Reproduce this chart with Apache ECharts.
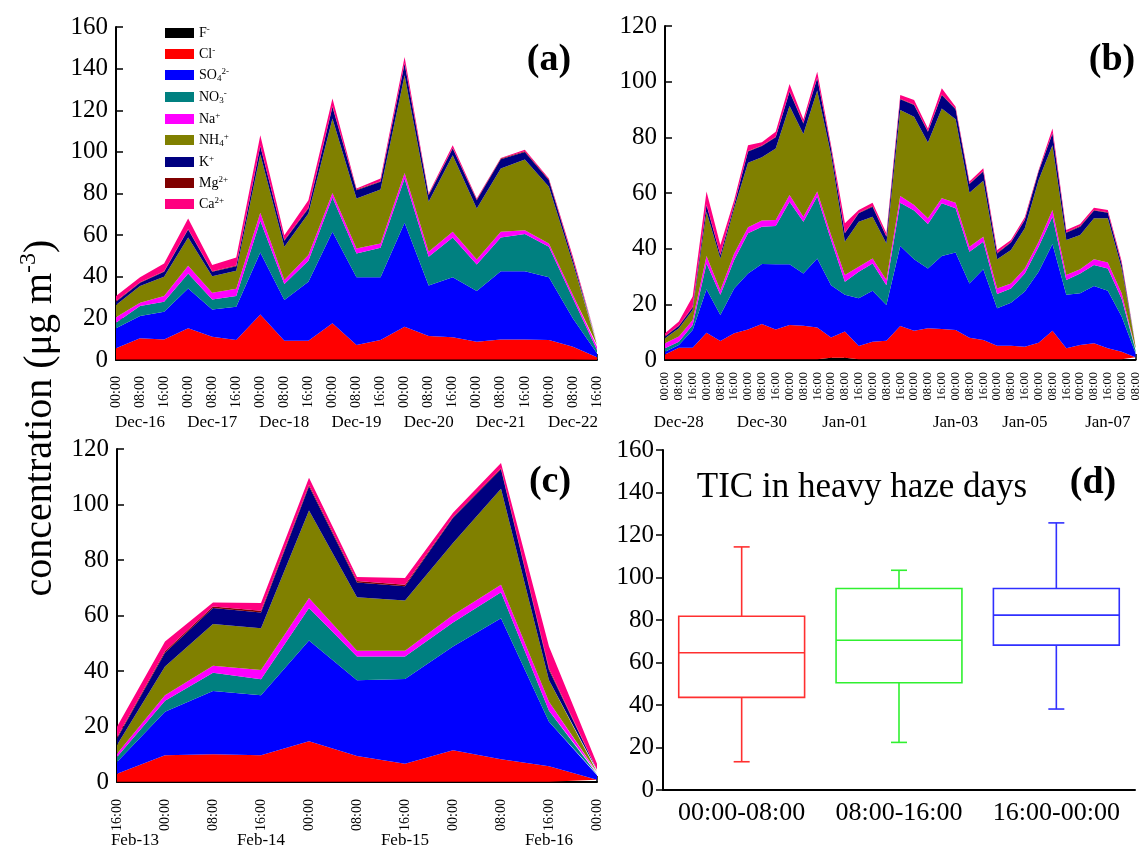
<!DOCTYPE html>
<html>
<head>
<meta charset="utf-8">
<title>Ion concentrations in haze days</title>
<script src="https://cdn.jsdelivr.net/npm/echarts@6/dist/echarts.min.js"></script>
<style>
html, body { margin: 0; padding: 0; background: #fff; }
#chart { width: 1142px; height: 850px; }
</style>
</head>
<body>
<div id="chart"></div>
<script>
var serif = 'Liberation Serif';

// species, bottom of the stack first
var ions = ['F-', 'Cl-', 'SO42-', 'NO3-', 'Na+', 'NH4+', 'K+', 'Mg2+', 'Ca2+'];
var ionLabels = ['{n|F}{sup|-}', '{n|Cl}{sup|-}', '{n|SO}{sub|4}{sup|2-}', '{n|NO}{sub|3}{sup|-}',
  '{n|Na}{sup|+}', '{n|NH}{sub|4}{sup|+}', '{n|K}{sup|+}', '{n|Mg}{sup|2+}', '{n|Ca}{sup|2+}'];
var ionColors = ['#000000', '#ff0000', '#0000ff', '#008080', '#ff00ff', '#808000', '#000080', '#800000', '#ff0080'];

// (a) Dec-16 .. Dec-22
var timesA = ['00:00','08:00','16:00','00:00','08:00','16:00','00:00','08:00','16:00','00:00','08:00','16:00',
  '00:00','08:00','16:00','00:00','08:00','16:00','00:00','08:00','16:00'];
var datesA = ['Dec-16','Dec-17','Dec-18','Dec-19','Dec-20','Dec-21','Dec-22'];
var dateAtA = [1, 4, 7, 10, 13, 16, 19];
var aF   = [0.2,0.2,0.2,0.2,0.2,0.2,0.2,0.2,0.2,0.2,0.2,0.2,0.2,0.2,0.2,0.2,0.2,0.2,0.2,0.2,0.1];
var aCl  = [5.4,10.2,9.7,15.0,11.0,9.4,21.7,9.1,9.1,17.4,7.0,9.4,15.8,11.3,10.7,8.6,9.7,9.7,9.4,6.2,1.2];
var aSO4 = [9.6,10.7,13.3,19.2,13.1,16.0,29.8,19.5,28.3,44.0,32.5,30.1,49.9,24.3,28.8,24.3,32.8,32.8,30.1,13.6,1.9];
var aNO3 = [2.7,4.8,4.8,7.2,4.8,5.1,15.2,7.7,10.1,16.5,11.5,14.2,21.3,13.8,19.2,12.8,16.2,17.8,14.7,9.6,1.6];
var aNa  = [2.6,1.6,2.7,3.7,3.2,3.5,3.8,1.9,2.7,2.2,2.4,2.1,2.7,2.4,2.7,2.4,2.7,1.9,1.6,1.6,1.6];
var aNH4 = [5.9,8.0,9.3,13.6,8.0,8.7,28.2,16.0,20.0,35.7,24.0,25.9,46.9,24.0,36.8,24.5,30.4,33.9,27.2,15.2,0.8];
var aK   = [1.6,1.6,2.4,3.8,2.1,2.2,3.8,2.9,2.4,5.6,4.0,3.7,5.6,3.2,3.2,4.0,4.5,3.7,3.2,1.6,0.8];
var aMg  = [0.3,0.3,0.3,0.3,0.3,0.3,0.3,0.3,0.3,0.3,0.3,0.3,0.3,0.3,0.3,0.3,0.3,0.3,0.3,0.3,0.3];
var aCa  = [2.4,2.3,3.7,5.0,2.9,3.9,5.0,2.4,3.7,3.7,0.5,1.3,2.9,0.5,1.3,0.5,0.3,0.7,0.5,1.3,0.5];

// (b) Dec-28 .. Jan-08
var timesB = ['00:00','08:00','16:00','00:00','08:00','16:00','00:00','08:00','16:00','00:00','08:00','16:00',
  '00:00','08:00','16:00','00:00','08:00','16:00','00:00','08:00','16:00','00:00','08:00','16:00',
  '00:00','08:00','16:00','00:00','08:00','16:00','00:00','08:00','16:00','00:00','08:00'];
var datesB = ['Dec-28','Dec-30','Jan-01','Jan-03','Jan-05','Jan-07'];
var dateAtB = [1, 7, 13, 21, 26, 32];
var bF   = [0.3,0.3,0.3,0.3,0.3,0.3,0.3,0.3,0.3,0.3,0.3,0.3,0.8,0.8,0.3,0.3,0.3,0.3,0.3,0.3,0.3,0.3,0.3,0.3,0.3,0.3,0.3,0.3,0.3,0.3,0.3,0.3,0.3,0.3,0.3];
var bCl  = [1.7,4.1,4.1,9.5,6.5,9.3,10.7,12.6,10.7,12.3,12.0,11.4,7.3,9.4,4.7,6.3,6.6,11.9,10.2,11.1,10.8,10.5,7.7,6.9,4.8,4.8,4.5,5.9,10.2,3.9,5.1,5.7,3.9,2.7,0.7];
var bSO4 = [1.0,1.0,6.4,15.6,9.4,16.1,20.1,21.6,23.4,21.8,18.8,24.8,18.8,13.2,17.2,18.3,12.9,28.8,25.7,21.5,26.3,27.8,19.5,25.4,13.5,15.5,19.8,25.5,31.2,19.2,18.6,20.6,20.7,12.6,1.5];
var bNO3 = [1.2,1.2,1.8,9.3,7.2,10.2,14.4,13.4,13.7,22.5,18.6,22.2,16.2,4.7,9.5,9.8,7.1,15.5,17.5,16.0,18.9,15.9,11.4,9.9,5.1,5.1,6.5,9.0,9.8,5.3,7.1,7.5,8.0,6.4,1.0];
var bNa  = [1.8,1.8,1.8,2.7,1.7,2.4,2.2,2.2,2.2,2.4,1.8,1.8,1.8,2.4,1.8,1.8,1.8,2.4,2.0,2.0,1.8,2.0,1.8,1.8,2.0,1.8,1.8,1.8,2.4,1.8,1.5,2.1,2.1,2.0,0.7];
var bNH4 = [1.8,3.0,3.6,15.9,11.4,16.2,23.2,22.7,25.7,32.0,29.7,36.3,28.8,12.0,16.2,15.0,13.2,30.9,31.7,27.2,32.3,30.0,19.4,20.1,10.5,12.0,14.4,22.2,23.3,12.6,12.3,14.7,15.9,9.0,0.8];
var bK   = [0.6,0.8,0.9,2.4,1.2,1.2,4.0,4.1,4.0,5.1,3.8,4.4,2.3,3.0,3.0,3.6,2.4,3.9,4.2,3.9,4.8,3.6,3.1,3.3,2.1,2.7,3.0,3.0,4.2,2.6,3.0,2.8,2.0,1.5,0.3];
var bMg  = [0.2,0.2,0.2,0.2,0.2,0.2,0.2,0.2,0.2,0.2,0.2,0.2,0.2,0.2,0.2,0.2,0.2,0.2,0.2,0.2,0.2,0.2,0.2,0.2,0.2,0.2,0.2,0.2,0.2,0.2,0.2,0.2,0.2,0.2,0.2];
var bCa  = [1.0,1.4,3.7,4.6,3.4,1.6,2.1,1.1,1.8,2.6,1.3,2.2,1.0,3.4,1.0,1.2,1.0,1.3,1.6,1.0,2.2,0.7,0.7,1.0,1.0,0.7,0.8,0.4,1.6,0.8,0.8,0.8,0.8,0.8,0.3];

// (c) Feb-13 16:00 .. Feb-17 00:00
var timesC = ['16:00','00:00','08:00','16:00','00:00','08:00','16:00','00:00','08:00','16:00','00:00'];
var datesC = ['Feb-13','Feb-14','Feb-15','Feb-16'];
var dateAtC = [0, 3, 6, 9];
var cF   = [0.1,0.1,0.1,0.1,0.1,0.1,0.1,0.1,0.1,0.1,0.1];
var cCl  = [2.9,9.5,9.9,9.5,14.6,9.3,6.5,11.3,8.1,5.6,0.7];
var cSO4 = [4.2,15.7,22.8,21.7,36.3,27.3,30.5,37.4,50.8,16.0,1.6];
var cNO3 = [1.8,4.0,6.6,5.7,11.7,8.5,8.1,8.7,9.4,4.0,0.4];
var cNa  = [1.2,2.0,2.5,3.4,3.6,2.1,2.1,2.7,2.7,3.2,0.5];
var cNH4 = [3.1,10.3,15.0,15.0,31.5,19.3,18.1,25.9,34.6,7.8,0.3];
var cK   = [2.4,5.0,5.8,5.7,8.8,5.3,5.1,9.1,7.0,3.7,0.6];
var cMg  = [0.4,0.5,0.5,0.6,0.5,0.5,0.6,0.3,0.4,0.5,0.2];
var cCa  = [3.8,3.5,1.5,2.8,2.5,1.5,2.4,1.5,1.9,7.9,2.2];

// (d) TIC box plot: min, Q1, median, Q3, max
var boxCats = ['00:00-08:00', '08:00-16:00', '16:00-00:00'];
var boxStats = [
  [13.3, 43.6, 64.6, 81.8, 114.4],
  [22.4, 50.5, 70.5, 94.8, 103.4],
  [38.1, 68.2, 82.3, 94.8, 125.7]
];
var boxColors = ['#ff3030', '#30f030', '#3030ff'];

var panels = [
  {times: timesA, dates: datesA, dateAt: dateAtA, ymax: 160,
   values: [aF, aCl, aSO4, aNO3, aNa, aNH4, aK, aMg, aCa],
   grid: {left: 116, top: 27, width: 481, height: 333}, timeFont: 14, timeMargin: 16, dateOffset: 50},
  {times: timesB, dates: datesB, dateAt: dateAtB, ymax: 120,
   values: [bF, bCl, bSO4, bNO3, bNa, bNH4, bK, bMg, bCa],
   grid: {left: 665, top: 26, width: 477, height: 334}, timeFont: 12.5, timeMargin: 12, dateOffset: 50},
  {times: timesC, dates: datesC, dateAt: dateAtC, ymax: 120, shiftFirst: true,
   values: [cF, cCl, cSO4, cNO3, cNa, cNH4, cK, cMg, cCa],
   grid: {left: 117, top: 449, width: 480, height: 333}, timeFont: 14, timeMargin: 17, dateOffset: 46}
];

var grids = [], xAxes = [], yAxes = [], series = [];

panels.forEach(function (p, i) {
  grids.push(p.grid);
  xAxes.push({
    type: 'category', gridIndex: i, data: p.times, boundaryGap: false,
    axisLine: {lineStyle: {color: '#000', width: 2}},
    axisTick: {inside: true, length: 6, interval: 0, lineStyle: {color: '#000', width: 1.5}},
    axisLabel: {interval: 0, rotate: 90, margin: p.timeMargin, hideOverlap: false,
      fontFamily: serif, fontSize: p.timeFont, color: '#000'},
    splitLine: {show: false}
  });
  var marks = {};
  p.dateAt.forEach(function (idx, k) { marks[idx] = p.dates[k]; });
  xAxes.push({
    type: 'category', gridIndex: i, data: p.times, boundaryGap: false,
    position: 'bottom', offset: p.dateOffset,
    axisLine: {show: false}, axisTick: {show: false}, splitLine: {show: false},
    axisLabel: {
      interval: function (idx) { return marks[idx] !== undefined; },
      margin: 4, hideOverlap: false, fontFamily: serif, fontSize: 17, color: '#000',
      formatter: function (v, idx) {
        var t = marks[idx] || '';
        if (p.shiftFirst && idx === 0) return '{s|' + t + '}';
        return t;
      },
      rich: {s: {padding: [0, 0, 0, 36], fontFamily: serif, fontSize: 17, color: '#000'}}
    }
  });
  yAxes.push({
    type: 'value', gridIndex: i, min: 0, max: p.ymax, interval: 20,
    axisLine: {show: true, lineStyle: {color: '#000', width: 2}},
    axisTick: {show: true, inside: true, length: 7, lineStyle: {color: '#000', width: 1.5}},
    axisLabel: {fontFamily: serif, fontSize: 25, color: '#000', margin: 8},
    splitLine: {show: false}
  });
  ions.forEach(function (ion, k) {
    series.push({
      type: 'line', name: ion, xAxisIndex: 2 * i, yAxisIndex: i,
      stack: 'panel' + i, symbol: 'none', silent: true,
      lineStyle: {width: 0, color: ionColors[k]},
      itemStyle: {color: ionColors[k]},
      areaStyle: {color: ionColors[k], opacity: 1},
      data: p.values[k]
    });
  });
});

// (d)
grids.push({left: 663, top: 450, width: 472, height: 340});
xAxes.push({
  type: 'category', gridIndex: 3, data: boxCats,
  axisLine: {lineStyle: {color: '#000', width: 2}},
  axisTick: {inside: true, alignWithLabel: true, length: 8, lineStyle: {color: '#000', width: 1.5}},
  axisLabel: {interval: 0, hideOverlap: false, fontFamily: serif, fontSize: 26, color: '#000', margin: 10}
});
yAxes.push({
  type: 'value', gridIndex: 3, min: 0, max: 160, interval: 20,
  axisLine: {show: true, lineStyle: {color: '#000', width: 2}},
  axisTick: {show: true, length: 7, lineStyle: {color: '#000', width: 1.5}},
  axisLabel: {fontFamily: serif, fontSize: 25, color: '#000', margin: 9},
  splitLine: {show: false}
});
series.push({
  type: 'custom', name: 'TIC', xAxisIndex: 6, yAxisIndex: 3, silent: true,
  data: boxStats.map(function (s, k) { return [k].concat(s); }),
  encode: {x: 0, y: [1, 2, 3, 4, 5]},
  renderItem: function (params, api) {
    var k = api.value(0);
    var cx = api.coord([k, 0])[0];
    var half = api.size([1, 0])[0] * 0.4;
    var cap = 8;
    var yMin = api.coord([k, api.value(1)])[1];
    var yQ1 = api.coord([k, api.value(2)])[1];
    var yMed = api.coord([k, api.value(3)])[1];
    var yQ3 = api.coord([k, api.value(4)])[1];
    var yMax = api.coord([k, api.value(5)])[1];
    var st = {stroke: boxColors[k], fill: 'none', lineWidth: 1.6};
    return {type: 'group', children: [
      {type: 'rect', shape: {x: cx - half, y: yQ3, width: 2 * half, height: yQ1 - yQ3}, style: st},
      {type: 'line', shape: {x1: cx - half, y1: yMed, x2: cx + half, y2: yMed}, style: st},
      {type: 'line', shape: {x1: cx, y1: yQ3, x2: cx, y2: yMax}, style: st},
      {type: 'line', shape: {x1: cx, y1: yQ1, x2: cx, y2: yMin}, style: st},
      {type: 'line', shape: {x1: cx - cap, y1: yMax, x2: cx + cap, y2: yMax}, style: st},
      {type: 'line', shape: {x1: cx - cap, y1: yMin, x2: cx + cap, y2: yMin}, style: st}
    ]};
  }
});

function panelTag(text, x, y) {
  return {type: 'text', x: x, y: y, silent: true,
    style: {text: text, fontFamily: serif, fontSize: 38, fontWeight: 'bold', fill: '#000',
      align: 'center', verticalAlign: 'middle'}};
}

var option = {
  backgroundColor: '#fff',
  animation: false,
  grid: grids,
  xAxis: xAxes,
  yAxis: yAxes,
  legend: {
    data: ions, orient: 'vertical', left: 160, top: 20,
    itemWidth: 29, itemHeight: 10, itemGap: 6, icon: 'rect', selectedMode: false,
    formatter: function (name) { return ionLabels[ions.indexOf(name)]; },
    textStyle: {
      fontFamily: serif, fontSize: 14, color: '#000',
      rich: {
        n: {fontFamily: serif, fontSize: 14, lineHeight: 16, color: '#000', verticalAlign: 'middle'},
        sup: {fontFamily: serif, fontSize: 9, lineHeight: 9, color: '#000', verticalAlign: 'top'},
        sub: {fontFamily: serif, fontSize: 9, lineHeight: 9, color: '#000', verticalAlign: 'bottom'}
      }
    }
  },
  graphic: [
    {type: 'text', x: 40, y: 418, rotation: Math.PI / 2, silent: true,
     style: {text: '{m|concentration (\u03bcg m}{s|-3}{m|)}', align: 'center', verticalAlign: 'middle',
       rich: {
         m: {fontFamily: serif, fontSize: 40, lineHeight: 46, fill: '#000', verticalAlign: 'middle'},
         s: {fontFamily: serif, fontSize: 24, lineHeight: 24, fill: '#000', verticalAlign: 'top'}
       }}},
    panelTag('(a)', 549, 60),
    panelTag('(b)', 1112, 60),
    panelTag('(c)', 550, 482),
    panelTag('(d)', 1093, 483),
    {type: 'text', x: 862, y: 488, silent: true,
     style: {text: 'TIC in heavy haze days', fontFamily: serif, fontSize: 35, fill: '#000',
       align: 'center', verticalAlign: 'middle'}}
  ],
  series: series
};

var chart = echarts.init(document.getElementById('chart'));
chart.setOption(option);
</script>
</body>
</html>
